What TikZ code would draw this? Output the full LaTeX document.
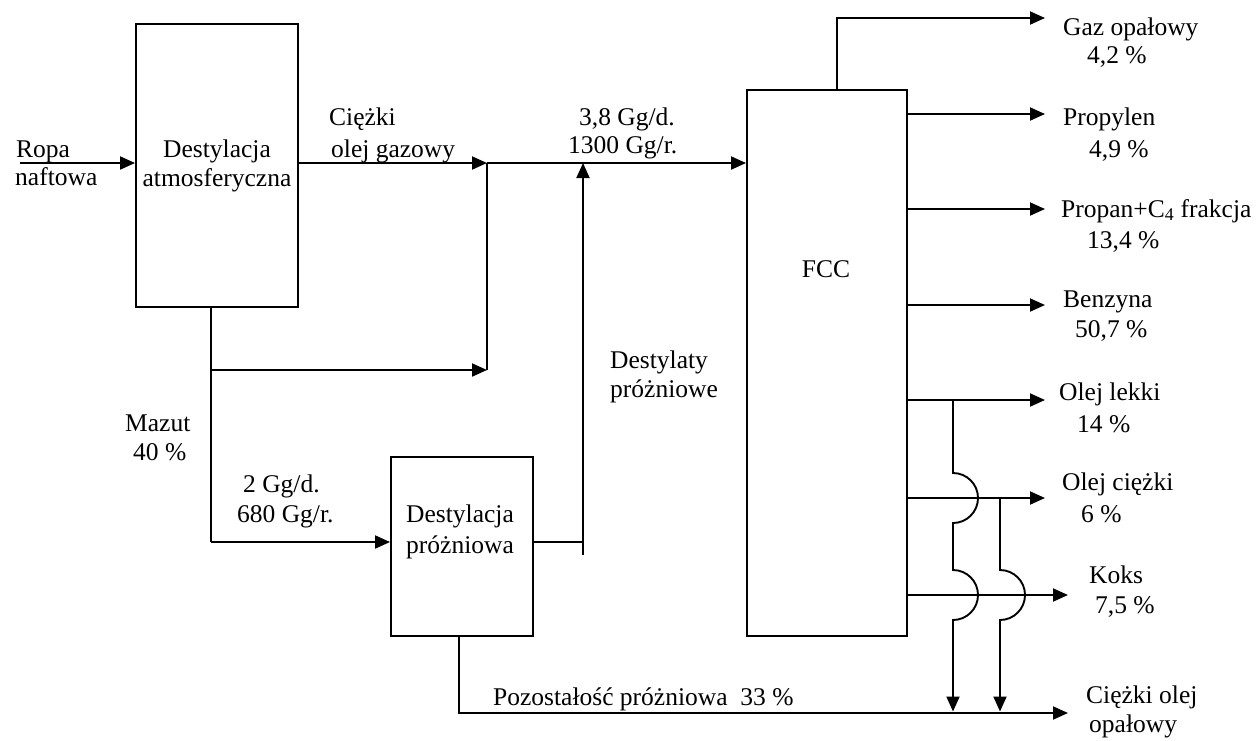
\documentclass[tikz,border=0pt]{standalone}
\usepackage{fontspec}
\setmainfont{Liberation Serif}
\usetikzlibrary{arrows.meta}
\newcommand\diafont{\fontsize{25.5}{29}\selectfont}
\begin{document}
\begin{tikzpicture}[x=1pt,y=-1pt,
  ln/.style={line width=1.9pt},
  arr/.style={ln,-{Triangle[length=15pt,width=13pt]}},
  box/.style={draw,line width=1.9pt,inner sep=0pt,align=center,font=\diafont},
  txt/.style={inner sep=0pt,font=\diafont}]
\useasboundingbox[fill=white] (0,0) rectangle (1256,740);

% boxes
\node[box,minimum width=162pt,minimum height=283pt] (atm) at (217,165.5) {Destylacja\\atmosferyczna};
\node[box,minimum width=142pt,minimum height=179pt] (vac) at (462,546.5) {};
\node[box,minimum width=160pt,minimum height=546pt] (fcc) at (827,363) {};

% coordinates
\coordinate (in) at (20,163);
\coordinate (j1) at (487,163);
\coordinate (m1) at (211,370);
\coordinate (m2) at (211,542);
\coordinate (vd) at (583,555);
\coordinate (r1) at (459,713);
\coordinate (o8) at (1068,713);
\coordinate (g) at (837,18);
\coordinate (o1) at (1045,18);
\coordinate (o2) at (1045,114);
\coordinate (o3) at (1045,209);
\coordinate (o4) at (1045,305);
\coordinate (o5) at (1045,400);
\coordinate (o6) at (1045,498);
\coordinate (o7) at (1068,595);
\coordinate (d1) at (953,400);
\coordinate (d2) at (1000,498);

% connectors
\draw[arr] (in) -- (in -| atm.west);
\draw[arr] (atm.east |- j1) -- (j1);
\draw[arr] (j1) -- (j1 -| fcc.west);
\draw[ln] (m1 |- atm.south) -- (m2);
\draw[arr] (m2) -- (m2 -| vac.west);
\draw[arr] (m1) -- (m1 -| j1);
\draw[ln] (m1 -| j1) -- (j1);
\draw[ln] (vac.east |- m2) -- (vd |- m2);
\draw[arr] (vd) -- (vd |- j1);
\draw[arr] (r1 |- vac.south) -- (r1) -- (o8);
\draw[arr] (g |- fcc.north) -- (g) -- (o1);
\draw[arr] (fcc.east |- o2) -- (o2);
\draw[arr] (fcc.east |- o3) -- (o3);
\draw[arr] (fcc.east |- o4) -- (o4);
\draw[arr] (fcc.east |- o5) -- (o5);
\draw[arr] (fcc.east |- o6) -- (o6);
\draw[arr] (fcc.east |- o7) -- (o7);
\draw[arr] (d1) -- ([yshift=25pt]d1 |- o6) arc[start angle=-90,end angle=90,radius=25]
  -- ([yshift=25pt]d1 |- o7) arc[start angle=-90,end angle=90,radius=25] -- ([yshift=1.5pt]d1 |- o8);
\draw[arr] (d2) -- ([yshift=25pt]d2 |- o7) arc[start angle=-90,end angle=90,radius=25] -- ([yshift=1.5pt]d2 |- o8);

% labels
\node[txt,anchor=base west] (t1) at (16,157) {Ropa};
\node[txt,anchor=base west] (t2) at (15,185) {naftowa};
\node[txt,anchor=base west] (t3) at (329,125) {Ciężki};
\node[txt,anchor=base west] (t4) at (331,157) {olej gazowy};
\node[txt,anchor=base west] (t5) at (579,125) {3,8 Gg/d.};
\node[txt,anchor=base west] (t6) at (568,153) {1300 Gg/r.};
\node[txt,anchor=base west] (t7) at (610,368) {Destylaty};
\node[txt,anchor=base west] (t8) at (610,397) {próżniowe};
\node[txt,anchor=base west] (t9) at (125,431) {Mazut};
\node[txt,anchor=base west] (t10) at (133,460) {40 \%};
\node[txt,anchor=base west] (t11) at (243,492) {2 Gg/d.};
\node[txt,anchor=base west] (t12) at (237,522) {680 Gg/r.};
\node[txt,anchor=base] (t13) at (460,522) {Destylacja};
\node[txt,anchor=base] (t14) at (460,553) {próżniowa};
\node[txt,anchor=base] (t15) at (826,277) {FCC};
\node[txt,anchor=base west] (t16) at (493,705) {Pozostałość próżniowa\ \ 33 \%};

\node[txt,anchor=base west] (r1a) at (1063,35) {Gaz opałowy};
\node[txt,anchor=base west] (r1b) at (1087,63) {4,2 \%};
\node[txt,anchor=base west] (r2a) at (1063,125) {Propylen};
\node[txt,anchor=base west] (r2b) at (1089,157) {4,9 \%};
\node[txt,anchor=base west] (r3a) at (1061,217) {Propan+C\textsubscript{4} frakcja};
\node[txt,anchor=base west] (r3b) at (1087,248) {13,4 \%};
\node[txt,anchor=base west] (r4a) at (1063,307) {Benzyna};
\node[txt,anchor=base west] (r4b) at (1075,337) {50,7 \%};
\node[txt,anchor=base west] (r5a) at (1059,400) {Olej lekki};
\node[txt,anchor=base west] (r5b) at (1077,432) {14 \%};
\node[txt,anchor=base west] (r6a) at (1062,490) {Olej ciężki};
\node[txt,anchor=base west] (r6b) at (1081,522) {6 \%};
\node[txt,anchor=base west] (r7a) at (1089,583) {Koks};
\node[txt,anchor=base west] (r7b) at (1095,613) {7,5 \%};
\node[txt,anchor=base west] (r8a) at (1086,703) {Ciężki olej};
\node[txt,anchor=base west] (r8b) at (1089,732) {opałowy};
\end{tikzpicture}
\end{document}
